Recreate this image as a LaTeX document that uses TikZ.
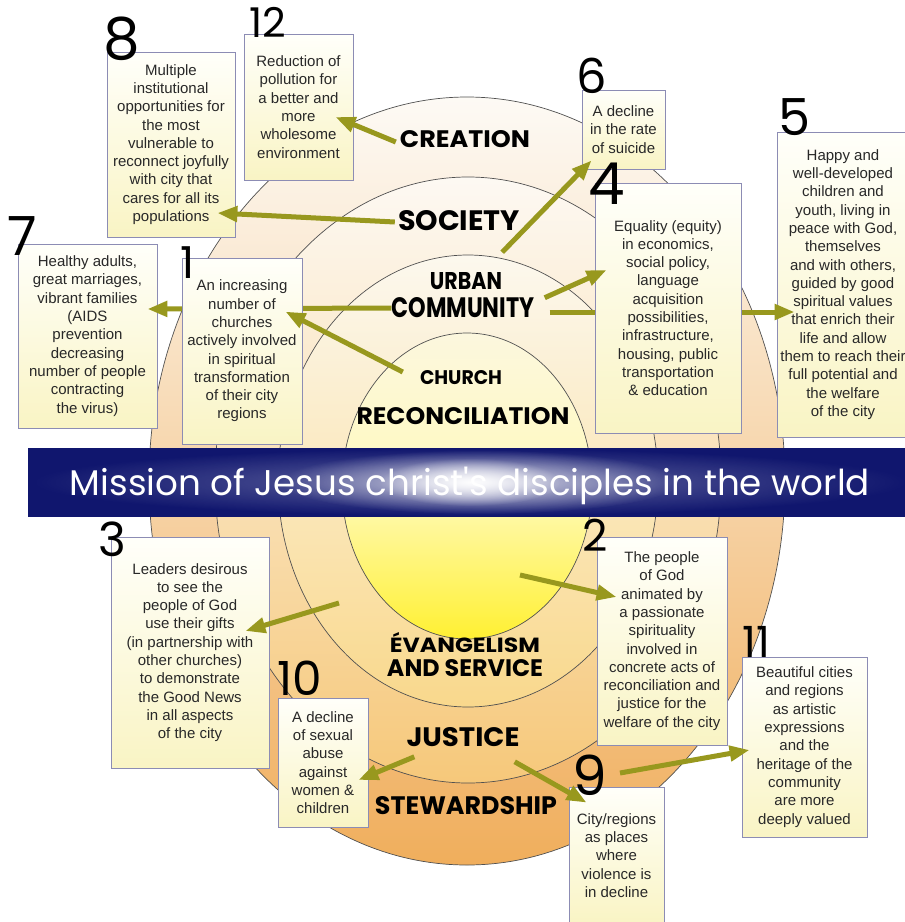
\documentclass[tikz,border=0pt]{standalone}
\usepackage{fontspec}
\usepackage{graphicx}
\setmainfont{Liberation Sans}
\newfontfamily\labfont{Poppins}
\newfontfamily\digfont{Poppins}
\usetikzlibrary{arrows.meta,fadings,calc}
\tikzfading[name=glowfade, inner color=transparent!0, outer color=transparent!100]
\definecolor{arrowc}{RGB}{152,152,30}
\definecolor{boxline}{RGB}{140,140,180}
\definecolor{boxtop}{RGB}{255,255,250}
\definecolor{boxbot}{RGB}{249,244,196}
\definecolor{boxtext}{RGB}{40,40,40}
\definecolor{ringline}{RGB}{80,80,80}
\definecolor{navy}{RGB}{16,22,110}
\definecolor{oTop}{RGB}{253,250,245}
\definecolor{oBot}{RGB}{240,174,92}
\definecolor{tTop}{RGB}{253,249,243}
\definecolor{tBot}{RGB}{246,200,122}
\definecolor{eTop}{RGB}{252,248,238}
\definecolor{eBot}{RGB}{249,216,140}
\definecolor{cTop}{RGB}{252,247,222}
\definecolor{cMid}{RGB}{255,250,190}
\definecolor{cBot}{RGB}{255,240,50}
\begin{document}
\begin{tikzpicture}[x=1pt,y=-1pt,
  box/.style={draw=boxline, line width=0.8pt, top color=boxtop, bottom color=boxbot,
    inner sep=0pt, align=center, font=\fontsize{15}{18.3}\selectfont, text=boxtext},
  arr/.style={draw=arrowc, line width=5pt, -{Triangle[length=20pt,width=15pt]}},
  ringline/.style={draw=ringline, line width=0.7pt},
  lab/.style={inner sep=0pt, text=black, font=\labfont\bfseries},
  hnum/.style={inner sep=0pt, text=black, font=\digfont}]
\useasboundingbox (0,0) rectangle (905,922);
\fill[white] (0,0) rectangle (905,922);

% concentric rings
\shade[top color=oTop, bottom color=oBot] (467,481) ellipse [x radius=318pt, y radius=384pt];
\draw[ringline] (467,481) ellipse [x radius=318pt, y radius=384pt];
\shade[top color=tTop, bottom color=tBot] (468,480) ellipse [x radius=253pt, y radius=303pt];
\draw[ringline] (468,480) ellipse [x radius=253pt, y radius=303pt];
\shade[top color=eTop, bottom color=eBot] (468,481) ellipse [x radius=190pt, y radius=226pt];
\draw[ringline] (468,481) ellipse [x radius=190pt, y radius=226pt];
\shade[top color=cTop, bottom color=cBot, middle color=cMid] (467,486) ellipse [x radius=125pt, y radius=153pt];
\draw[ringline] (467,486) ellipse [x radius=125pt, y radius=153pt];

% banner
\fill[navy] (28,448) rectangle (910,517);
\fill[white, fill opacity=0.35, path fading=glowfade] (470,482) ellipse [x radius=440pt, y radius=34pt];
\fill[white, fill opacity=0.8, path fading=glowfade] (480,482) ellipse [x radius=200pt, y radius=32pt];
\fill[white, fill opacity=0.95, path fading=glowfade] (470,482) ellipse [x radius=90pt, y radius=24pt];
\node[inner sep=0pt, anchor=base, text=white, font=\digfont] (banner) at (470,495)
  {\resizebox{800pt}{!}{Mission of Jesus christ's disciples in the world}};

% boxes drawn below some arrows
\node[box, minimum width=139pt, minimum height=184pt] (b7) at (87.5,336)
  {Healthy adults,\\great marriages,\\vibrant families\\(AIDS\\prevention\\decreasing\\number of people\\contracting\\the virus)};
\node[box, minimum width=132pt, minimum height=305pt] (b5) at (843,284.5)
  {Happy and\\well-developed\\children and\\youth, living in\\peace with God,\\themselves\\and with others,\\guided by good\\spiritual values\\that enrich their\\life and allow\\them to reach their\\full potential and\\the welfare\\of the city};

% labels
\node[lab] (creation) at (465,139) {\resizebox{130pt}{17pt}{CREATION}};
\node[lab] (society) at (459,221) {\resizebox{122pt}{20pt}{SOCIETY}};
\node[lab] (urban) at (466,281) {\resizebox{72pt}{17pt}{URBAN}};
\node[lab] (community) at (463,308) {\resizebox{143pt}{20pt}{COMMUNITY}};
\node[lab] (church) at (461,378) {\resizebox{82pt}{14pt}{CHURCH}};
\node[lab] (reconciliation) at (463,416) {\resizebox{213pt}{17pt}{RECONCILIATION}};
\node[lab] (evangelism) at (465,643) {\resizebox{150pt}{20pt}{ÉVANGELISM}};
\node[lab] (service) at (465,668) {\resizebox{156pt}{17pt}{AND SERVICE}};
\node[lab] (justice) at (463,737) {\resizebox{113pt}{19pt}{JUSTICE}};
\node[lab] (stewardship) at (466,806) {\resizebox{182pt}{18pt}{STEWARDSHIP}};

% arrows hidden behind boxes 1 and 4
\draw[arr] (community.west) -- ($(b7.east)+(-10,-27)$);
\draw[arr] ($(community.east)+(15,4)$) -- ($(b5.west)+(18,27.5)$);

% remaining boxes
\node[box, minimum width=120pt, minimum height=186pt] (b1) at (242,351)
  {An increasing\\number of\\churches\\actively involved\\in spiritual\\transformation\\of their city\\regions};
\node[box, minimum width=146pt, minimum height=250pt] (b4) at (668,308)
  {Equality (equity)\\in economics,\\social policy,\\language\\acquisition\\possibilities,\\infrastructure,\\housing, public\\transportation\\\& education};
\node[box, minimum width=128pt, minimum height=185pt] (b8) at (171,144.5)
  {Multiple\\institutional\\opportunities for\\the most\\vulnerable to\\reconnect joyfully\\with city that\\cares for all its\\populations};
\node[box, minimum width=109pt, minimum height=146pt] (b12) at (298.5,107)
  {Reduction of\\pollution for\\a better and\\more\\wholesome\\environment};
\node[box, minimum width=83pt, minimum height=79pt] (b6) at (623.5,129.5)
  {A decline\\in the rate\\of suicide};
\node[box, minimum width=158pt, minimum height=231pt] (b3) at (190,652.5)
  {Leaders desirous\\to see the\\people of God\\use their gifts\\(in partnership with\\other churches)\\to demonstrate\\the Good News\\in all aspects\\of the city};
\node[box, minimum width=90pt, minimum height=129pt] (b10) at (323,762.5)
  {A decline\\of sexual\\abuse\\against\\women \&\\children};
\node[box, minimum width=130pt, minimum height=208pt] (b2) at (662,641)
  {The people\\of God\\animated by\\a passionate\\spirituality\\involved in\\concrete acts of\\reconciliation and\\justice for the\\welfare of the city};
\node[box, minimum width=125pt, minimum height=180pt] (b11) at (804.5,747)
  {Beautiful cities\\and regions\\as artistic\\expressions\\and the\\heritage of the\\community\\are more\\deeply valued};
\node[box, minimum width=95pt, minimum height=137pt] (b9) at (616.5,855.5)
  {City/regions\\as places\\where\\violence is\\in decline};

% free starting points
\coordinate (evstart) at (339,603);
\coordinate (sunstart) at (520,575);
\coordinate (artstart) at (620,773);

% arrows
\draw[arr] ($(creation.west)+(-4,3)$) -- ($(b12.east)+(-18,10)$);
\draw[arr] ($(society.west)+(-3,1)$) -- ($(b8.east)+(-18,68.5)$);
\draw[arr] ($(church.west)+(-17,-6)$) -- ($(b1.north east)+(-17,54)$);
\draw[arr] ($(urban.north east)+(0,-20)$) -- ($(b6.south west)+(10,-9)$);
\draw[arr] ($(community.north east)+(10,0)$) -- ($(b4.west)+(12,-38)$);
\draw[arr] (evstart) -- ($(b3.east)+(-24,-21.5)$);
\draw[arr] (sunstart) -- ($(b2.west)+(20,-44)$);
\draw[arr] ($(justice.south west)+(8,10)$) -- ($(b10.east)+(-10,17.5)$);
\draw[arr] ($(justice.south east)+(-5,15)$) -- ($(b9.north west)+(18,16)$);
\draw[arr] (artstart) -- ($(b11.west)+(8,3)$);

% handwritten numbers
\node[hnum, font=\digfont\fontsize{58}{58}\selectfont] (n8) at (122,39) {8};
\node[hnum, font=\digfont\fontsize{41}{41}\selectfont] (n12) at (268,22) {12};
\node[hnum, font=\digfont\fontsize{54}{54}\selectfont] (n7) at (22,236) {7};
\node[hnum, font=\digfont\fontsize{44}{44}\selectfont] (n1) at (188,263) {1};
\node[hnum, font=\digfont\fontsize{48}{48}\selectfont] (n6) at (592,76) {6};
\node[hnum, font=\digfont\fontsize{58}{58}\selectfont] (n4) at (607,184) {4};
\node[hnum, font=\digfont\fontsize{51}{51}\selectfont] (n5) at (795,117) {5};
\node[hnum, font=\digfont\fontsize{47}{47}\selectfont] (n3) at (112,539) {3};
\node[hnum, font=\digfont\fontsize{47}{47}\selectfont] (n10) at (300,678) {10};
\node[hnum, font=\digfont\fontsize{44}{44}\selectfont] (n2) at (595,535) {2};
\node[hnum, font=\digfont\fontsize{43}{43}\selectfont] (n11) at (756,642) {11};
\node[hnum, font=\digfont\fontsize{55}{55}\selectfont] (n9) at (590,775) {9};
\end{tikzpicture}
\end{document}
